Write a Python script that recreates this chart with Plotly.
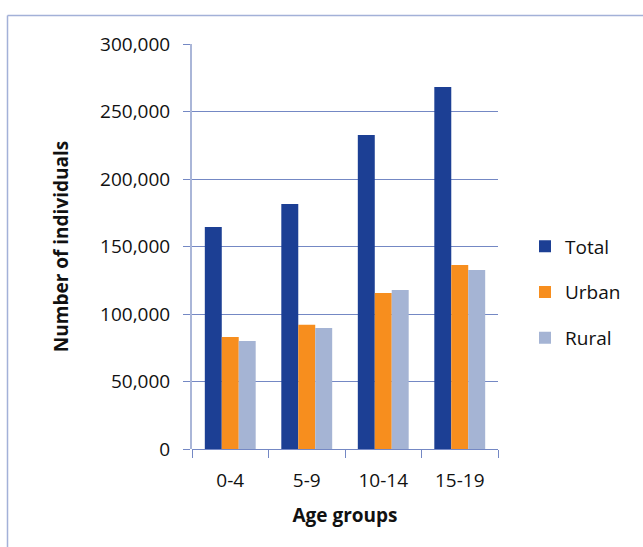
import plotly.graph_objects as go

categories = ["0-4", "5-9", "10-14", "15-19"]
total = [164500, 181500, 232600, 268200]
urban = [83000, 92000, 115500, 136300]
rural = [80000, 89600, 117800, 132600]
series_names = ["Total", "Urban", "Rural"]
colors = ["#1c3f94", "#f78e1e", "#a5b4d4"]
y_ticks = [0, 50000, 100000, 150000, 200000, 250000, 300000]
y_ticklabels = ["0", "50,000", "100,000", "150,000", "200,000", "250,000", "300,000"]

FONT = "Open Sans"
TXT = "#111111"
GRID = "#7488c4"

fig = go.Figure()
for name, vals, col in zip(series_names, [total, urban, rural], colors):
    fig.add_trace(go.Bar(x=categories, y=vals, name=name, marker=dict(color=col, line=dict(width=0)),
                         legendgroup=name))

# plot area in px: x 192..498, y 44..449
L, R, T, B = 192, 498, 44, 449
W, H = 643, 547
def px(x):
    return (x - L) / (R - L)
def py(y):
    return (B - y) / (B - T)

fig.update_layout(
    width=W, height=H,
    margin=dict(l=L, r=W - R, t=T, b=H - B, pad=0),
    paper_bgcolor="white", plot_bgcolor="white",
    barmode="group", bargap=0.335, bargroupgap=0,
    font=dict(family=FONT, size=19, color=TXT),
    showlegend=True,
    legend=dict(x=px(525), xanchor="left", y=py(227.5), yanchor="top",
                font=dict(family=FONT, size=19, color=TXT),
                tracegroupgap=18, itemwidth=30, bgcolor="rgba(0,0,0,0)"),
    xaxis=dict(
        showgrid=False, showline=False, zeroline=False,
        ticks="outside", tickson="boundaries", ticklen=8, tickcolor=GRID, tickwidth=1.3,
        tickfont=dict(family=FONT, size=19, color=TXT), ticklabelstandoff=18,
        title=dict(text="<b>Age groups</b>", font=dict(family=FONT, size=19, color=TXT), standoff=16),
    ),
    yaxis=dict(
        range=[0, 300000], tickvals=y_ticks, ticktext=y_ticklabels,
        showgrid=True, gridcolor=GRID, gridwidth=1.3,
        zeroline=True, zerolinecolor=GRID, zerolinewidth=1.3,
        showline=True, linecolor="#aab6d8", linewidth=2,
        ticks="outside", ticklen=7, tickcolor=GRID, tickwidth=1.3,
        tickfont=dict(family=FONT, size=19, color=TXT), ticklabelstandoff=9,
        title=dict(text="<b>Number of individuals</b>", font=dict(family=FONT, size=19, color=TXT), standoff=26),
    ),
    shapes=[
        dict(type="line", xref="paper", yref="paper", x0=px(7.5), x1=px(660), y0=py(15.5), y1=py(15.5),
             line=dict(color="#a3b1d8", width=1.5)),
        dict(type="line", xref="paper", yref="paper", x0=px(7.5), x1=px(7.5), y0=py(15.5), y1=py(560),
             line=dict(color="#a3b1d8", width=1.5)),
    ],
)

fig.write_html("out.html")
